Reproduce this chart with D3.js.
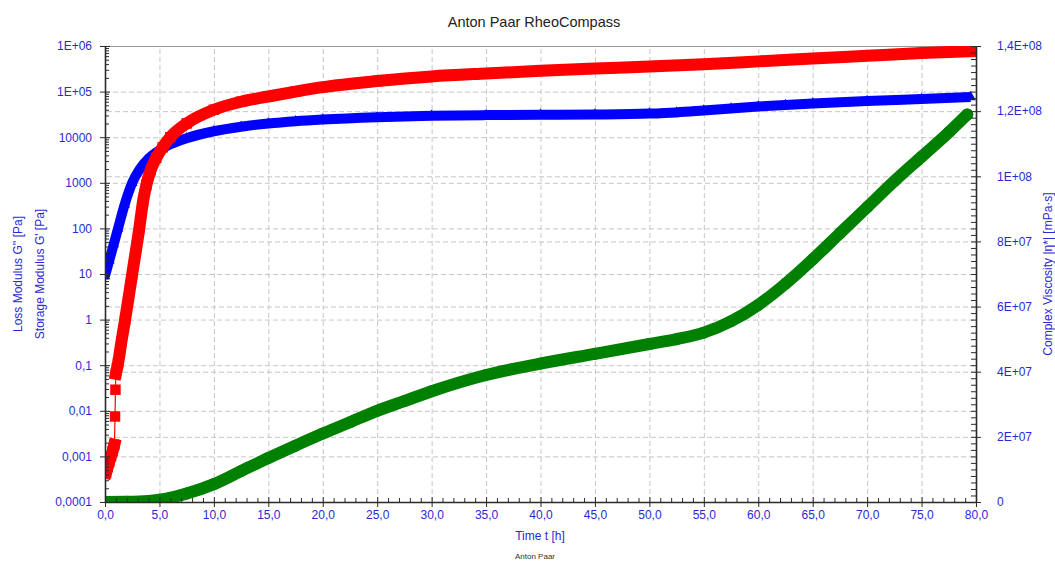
<!DOCTYPE html>
<html>
<head>
<meta charset="utf-8">
<title>Anton Paar RheoCompass</title>
<script src="https://cdn.jsdelivr.net/npm/d3@7"></script>
<style>
  html, body { margin: 0; padding: 0; background: #fff; }
  svg { display: block; font-family: "Liberation Sans", Arial, Helvetica, sans-serif; }
</style>
</head>
<body>
<svg id="chart" width="1055" height="561"></svg>
<script>
// ---- Measured series (time in hours) ----
const timeStorage = [0.1, 0.25, 0.4, 0.55, 0.7, 0.85, 0.92, 0.96, 1.0, 1.1, 1.2, 1.5, 1.85, 2.5, 3.15, 3.5, 3.8, 4.2, 4.7, 5.3, 6.0, 7.5, 10, 12.5, 15, 17.5, 20, 25, 30, 35, 40, 45, 50, 55, 60, 65, 70, 75, 79.5];
const storageModulus = [0.00044, 0.00058, 0.00078, 0.001, 0.0013, 0.0018, 0.0075, 0.029, 0.065, 0.085, 0.11, 0.32, 1, 10, 100, 400, 900, 1900, 3500, 6000, 10000, 20000, 40000, 60000, 78000, 100000, 125000, 170000, 215000, 250000, 285000, 320000, 355000, 400000, 460000, 530000, 610000, 700000, 770000];
// index ranges of the storage series where measurements follow each other closely
const storageRuns = [[0, 5], [8, 38]];

const timeLoss = [0, 0.4, 0.8, 1.2, 1.8, 2.5, 3.2, 4.0, 5.0, 6.0, 7.5, 10, 12.5, 15, 17.5, 20, 25, 30, 35, 40, 45, 50, 52.5, 55, 57.5, 60, 62.5, 65, 70, 75, 79.5];
const lossModulus = [9, 20, 45, 100, 330, 1000, 2000, 3400, 5200, 7000, 9500, 13500, 17000, 20000, 22500, 24500, 27500, 29500, 30500, 31000, 31500, 33000, 35000, 38500, 42500, 47000, 51000, 55000, 62000, 69000, 76000];

const timeViscosity = [0, 2, 4, 5, 6, 7.5, 10, 12.5, 15, 17.5, 20, 22.5, 25, 27.5, 30, 35, 40, 45, 50, 52.5, 55, 57.5, 60, 62.5, 65, 67.5, 70, 72.5, 75, 77.5, 79.2];
const complexViscosity = [0, 0.05e6, 0.3e6, 0.7e6, 1.3e6, 2.6e6, 5.5e6, 9.5e6, 13.5e6, 17.3e6, 21e6, 24.5e6, 28e6, 31e6, 34e6, 39e6, 42.5e6, 45.5e6, 48.5e6, 50e6, 52e6, 55.5e6, 60.5e6, 67e6, 74.5e6, 82.5e6, 90.5e6, 98.5e6, 106e6, 113.5e6, 119e6];

// ---- Axis ticks and labels ----
const xTickValues = [0, 5, 10, 15, 20, 25, 30, 35, 40, 45, 50, 55, 60, 65, 70, 75, 80];
const xTickLabels = ["0,0", "5,0", "10,0", "15,0", "20,0", "25,0", "30,0", "35,0", "40,0", "45,0", "50,0", "55,0", "60,0", "65,0", "70,0", "75,0", "80,0"];
const leftTickValues = [1e-4, 1e-3, 1e-2, 1e-1, 1, 10, 100, 1000, 1e4, 1e5, 1e6];
const leftTickLabels = ["0,0001", "0,001", "0,01", "0,1", "1", "10", "100", "1000", "10000", "1E+05", "1E+06"];
const rightTickValues = [0, 2e7, 4e7, 6e7, 8e7, 1e8, 1.2e8, 1.4e8];
const rightTickLabels = ["0", "2E+07", "4E+07", "6E+07", "8E+07", "1E+08", "1,2E+08", "1,4E+08"];

const titleText = "Anton Paar RheoCompass";
const xTitle = "Time  t  [h]";
const leftTitleOuter = "Loss Modulus G''  [Pa]";
const leftTitleInner = "Storage Modulus G'  [Pa]";
const rightTitle = "Complex Viscosity |η*|  [mPa·s]";
const footer = "Anton Paar";

// ---- Layout ----
const plot = { left: 105, right: 976, top: 46, bottom: 502 };
const labelColor = "#2a2ad4";
const axisColor = "#2b2b2b";

const svg = d3.select("#chart");

const x = d3.scaleLinear().domain([0, 80]).range([plot.left, plot.right]);
const yL = d3.scaleLog().domain([1e-4, 1e6]).range([plot.bottom, plot.top]);
const yR = d3.scaleLinear().domain([0, 1.4e8]).range([plot.bottom, plot.top]);

// ---- Grid (dashed) ----
function gridStyle(g) {
  g.select(".domain").remove();
  g.selectAll(".tick line").attr("stroke", "#c6c6c6").attr("stroke-width", 1).attr("stroke-dasharray", "5,3");
}
svg.append("g")
  .attr("transform", `translate(0,${plot.bottom})`)
  .call(d3.axisBottom(x).tickValues(xTickValues.slice(1, -1)).tickSize(-(plot.bottom - plot.top)).tickFormat(""))
  .call(gridStyle);
svg.append("g")
  .attr("transform", `translate(${plot.left},0)`)
  .call(d3.axisLeft(yL).tickValues(leftTickValues.slice(1, -1)).tickSize(-(plot.right - plot.left)).tickFormat(""))
  .call(gridStyle);
svg.append("g")
  .attr("transform", `translate(${plot.right},0)`)
  .call(d3.axisRight(yR).tickValues(rightTickValues.slice(1, -1)).tickSize(-(plot.right - plot.left)).tickFormat(""))
  .call(gridStyle);

// top frame line
svg.append("line")
  .attr("x1", plot.left).attr("x2", plot.right)
  .attr("y1", plot.top + 0.5).attr("y2", plot.top + 0.5)
  .attr("stroke", "#9a9a9a").attr("stroke-width", 1);

// ---- Series ----
svg.append("defs").append("clipPath").attr("id", "plotClip")
  .append("rect")
  .attr("x", plot.left).attr("y", plot.top)
  .attr("width", plot.right - plot.left).attr("height", plot.bottom - plot.top);

const seriesLayer = svg.append("g").attr("clip-path", "url(#plotClip)");

function drawSeries(times, values, yScale, runs, opts) {
  const pts = times.map((t, i) => [x(t), yScale(values[i])]);
  const g = seriesLayer.append("g");
  const curve = d3.line().curve(d3.curveMonotoneX);
  // thin connecting line through all measurements
  g.append("path").attr("d", curve(pts))
    .attr("fill", "none").attr("stroke", opts.color).attr("stroke-width", 1.2);
  // closely packed markers merge into a solid band
  runs.forEach(([a, b]) => {
    g.append("path").attr("d", curve(pts.slice(a, b + 1)))
      .attr("fill", "none").attr("stroke", opts.color)
      .attr("stroke-width", opts.band)
      .attr("stroke-linejoin", "round")
      .attr("stroke-linecap", opts.cap);
  });
  // markers
  g.selectAll("path.marker").data(pts).join("path")
    .attr("class", "marker")
    .attr("transform", d => `translate(${d[0]},${d[1]})`)
    .attr("d", d3.symbol().type(opts.symbol).size(opts.size)())
    .attr("fill", opts.color);
}

drawSeries(timeViscosity, complexViscosity, yR, [[0, timeViscosity.length - 1]],
  { color: "#008000", band: 12, cap: "round", symbol: d3.symbolCircle, size: 113 });
drawSeries(timeLoss, lossModulus, yL, [[0, timeLoss.length - 1]],
  { color: "#0000ff", band: 10, cap: "butt", symbol: d3.symbolTriangle, size: 50 });
drawSeries(timeStorage, storageModulus, yL, storageRuns,
  { color: "#ff0000", band: 12, cap: "square", symbol: d3.symbolSquare, size: 110 });

// ---- Axes ----
function styleAxis(g) {
  g.select(".domain").attr("stroke", axisColor).attr("stroke-width", 1.6);
  g.selectAll(".tick line").attr("stroke", axisColor).attr("stroke-width", 1);
  g.selectAll(".tick text").attr("fill", labelColor).attr("font-size", 12)
    .attr("font-family", '"Liberation Sans", Arial, sans-serif');
}

// bottom
const minorX = d3.range(0, 81, 1).filter(v => v % 5 !== 0);
svg.append("g").attr("transform", `translate(0,${plot.bottom})`)
  .call(d3.axisBottom(x).tickValues(minorX).tickSize(-4).tickFormat(""))
  .call(g => { g.select(".domain").remove(); g.selectAll(".tick line").attr("stroke", axisColor); });
svg.append("g").attr("transform", `translate(0,${plot.bottom})`)
  .call(d3.axisBottom(x).tickValues(xTickValues).tickFormat((d, i) => xTickLabels[i]).tickSize(5).tickSizeOuter(0).tickPadding(3))
  .call(styleAxis)
  .call(g => g.selectAll(".tick line").attr("y1", -5).attr("y2", 5));

// left (log)
const minorL = [];
for (let e = -4; e < 6; e++) for (let m = 2; m <= 9; m++) minorL.push(m * Math.pow(10, e));
svg.append("g").attr("transform", `translate(${plot.left},0)`)
  .call(d3.axisLeft(yL).tickValues(minorL).tickSize(-4).tickFormat(""))
  .call(g => { g.select(".domain").remove(); g.selectAll(".tick line").attr("stroke", axisColor); });
svg.append("g").attr("transform", `translate(${plot.left},0)`)
  .call(d3.axisLeft(yL).tickValues(leftTickValues).tickFormat((d, i) => leftTickLabels[i]).tickSize(5).tickSizeOuter(0).tickPadding(8))
  .call(styleAxis)
  .call(g => g.selectAll(".tick line").attr("x1", 5).attr("x2", -5));

// right (linear)
const minorR = d3.range(0, 1.4e8 + 1, 2e6).filter(v => Math.round(v / 2e6) % 10 !== 0);
svg.append("g").attr("transform", `translate(${plot.right},0)`)
  .call(d3.axisRight(yR).tickValues(minorR).tickSize(-5).tickFormat(""))
  .call(g => { g.select(".domain").remove(); g.selectAll(".tick line").attr("stroke", axisColor); });
svg.append("g").attr("transform", `translate(${plot.right},0)`)
  .call(d3.axisRight(yR).tickValues(rightTickValues).tickFormat((d, i) => rightTickLabels[i]).tickSize(5).tickSizeOuter(0).tickPadding(16))
  .call(styleAxis)
  .call(g => g.selectAll(".tick line").attr("x1", -5).attr("x2", 5));

// ---- Titles ----
svg.append("text")
  .attr("x", 534).attr("y", 27).attr("text-anchor", "middle")
  .attr("font-size", 14.5).attr("fill", "#222").text(titleText);

svg.append("text")
  .attr("x", 540).attr("y", 540).attr("text-anchor", "middle")
  .attr("font-size", 12).attr("fill", labelColor).text(xTitle);

svg.append("text")
  .attr("x", 535).attr("y", 559).attr("text-anchor", "middle")
  .attr("font-size", 8).attr("fill", "#333").text(footer);

const midY = (plot.top + plot.bottom) / 2;
svg.append("text")
  .attr("transform", `translate(22,${midY}) rotate(-90)`)
  .attr("text-anchor", "middle").attr("font-size", 12).attr("fill", labelColor)
  .text(leftTitleOuter);
svg.append("text")
  .attr("transform", `translate(44,${midY}) rotate(-90)`)
  .attr("text-anchor", "middle").attr("font-size", 12).attr("fill", labelColor)
  .text(leftTitleInner);
svg.append("text")
  .attr("transform", `translate(1052,${midY}) rotate(-90)`)
  .attr("text-anchor", "middle").attr("font-size", 12).attr("fill", labelColor)
  .text(rightTitle);
</script>
</body>
</html>
